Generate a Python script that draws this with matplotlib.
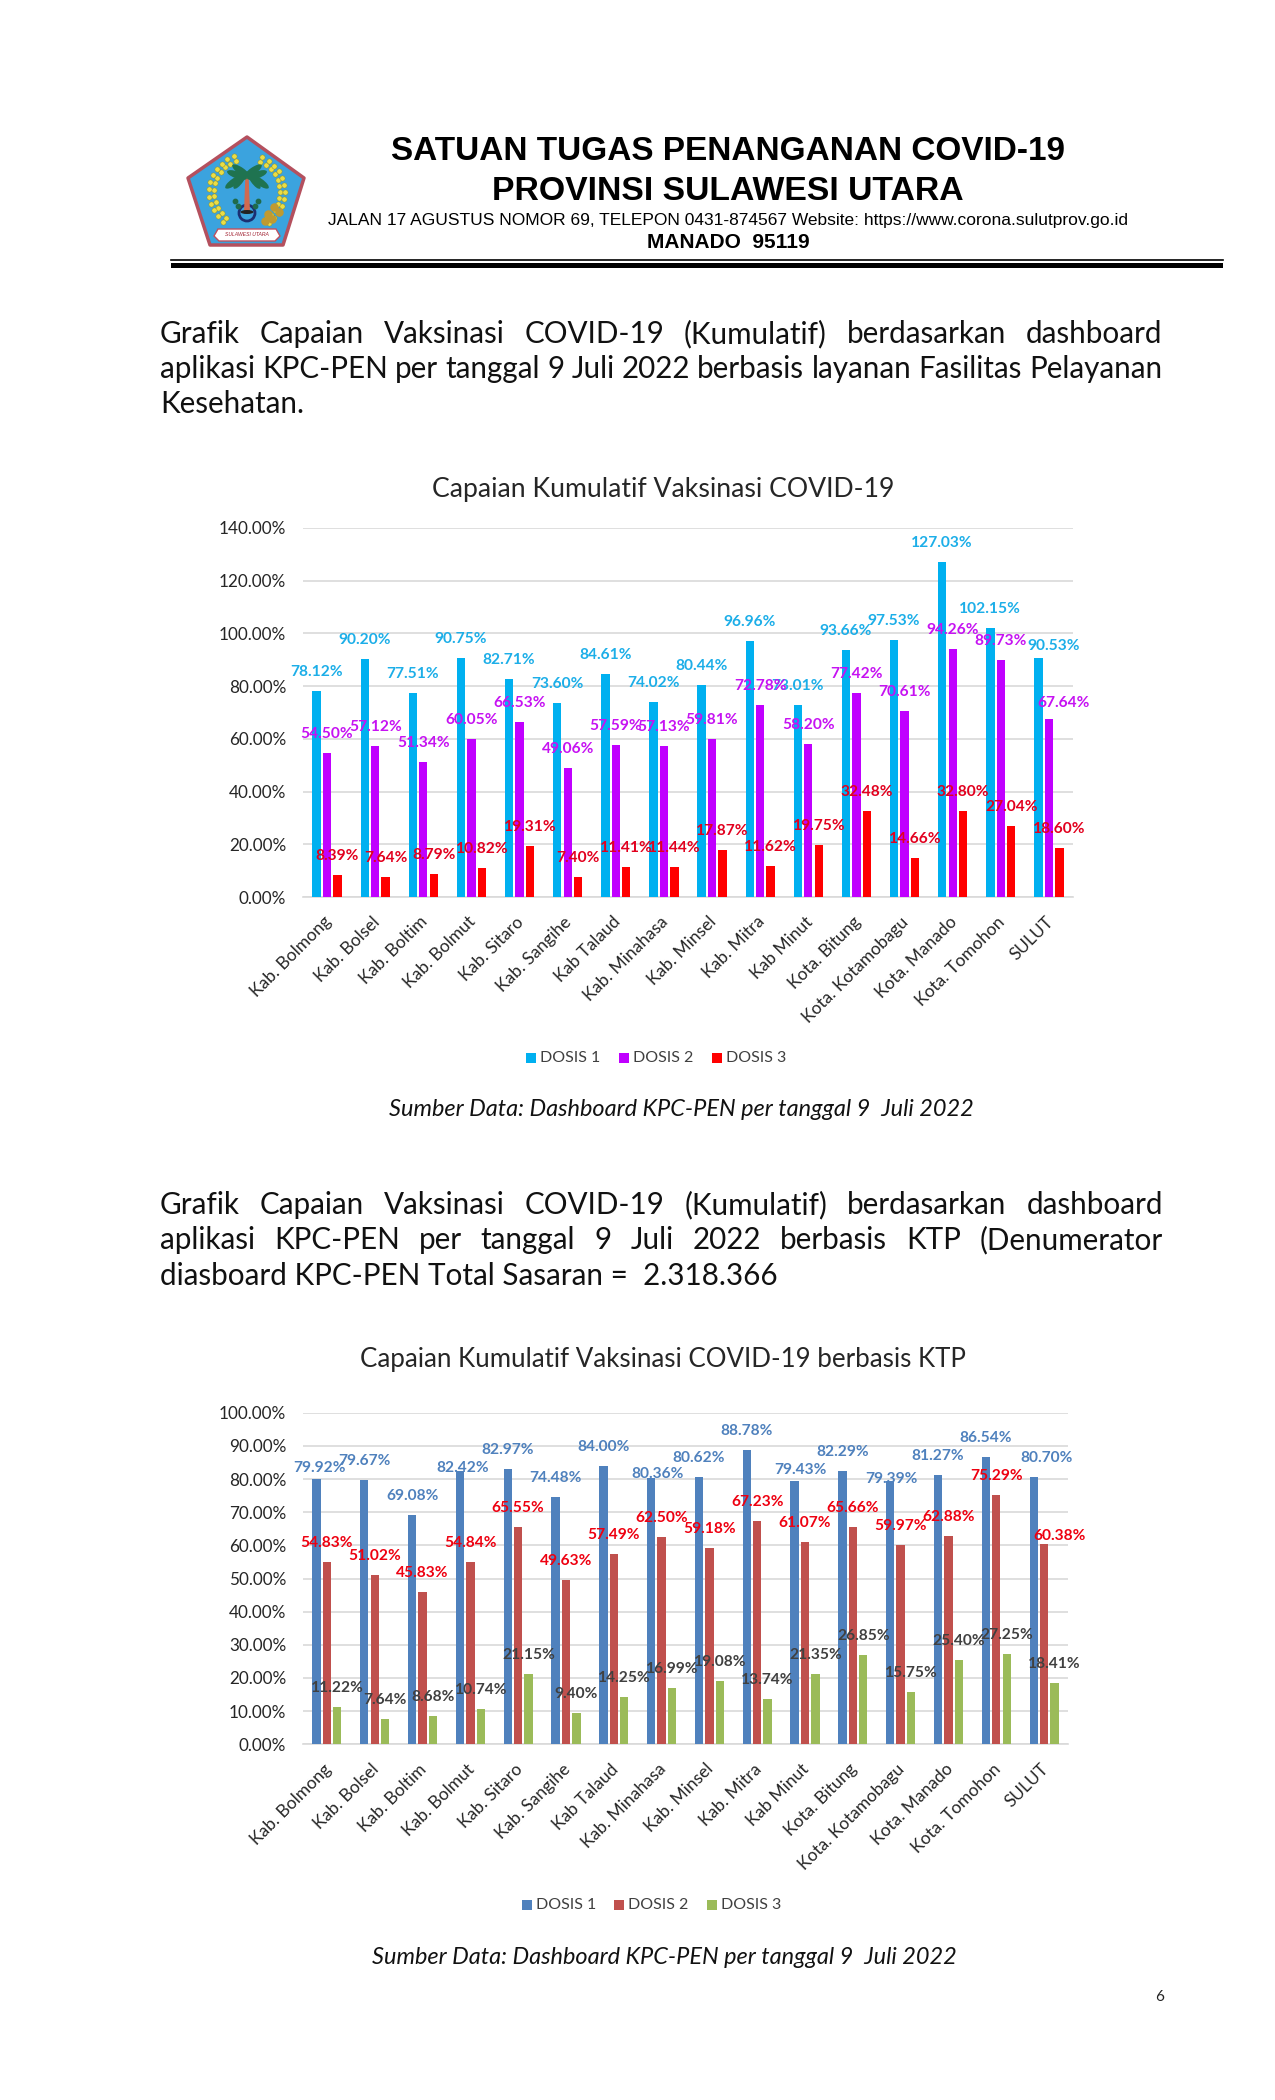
import numpy as np
import matplotlib
matplotlib.use("Agg")
import matplotlib.pyplot as plt
from matplotlib.patches import Polygon, Ellipse, Rectangle, Circle
from matplotlib.transforms import ScaledTranslation

W, H = 1275, 2100
BODY = "Lato"
HEAD = "Liberation Sans"

categories = ["Kab. Bolmong", "Kab. Bolsel", "Kab. Boltim", "Kab. Bolmut", "Kab. Sitaro",
              "Kab. Sangihe", "Kab Talaud", "Kab. Minahasa", "Kab. Minsel", "Kab. Mitra",
              "Kab Minut", "Kota. Bitung", "Kota. Kotamobagu", "Kota. Manado", "Kota. Tomohon",
              "SULUT"]

# chart 1 - layanan fasyankes
faskes_dosis1 = [78.12, 90.20, 77.51, 90.75, 82.71, 73.60, 84.61, 74.02,
                 80.44, 96.96, 73.01, 93.66, 97.53, 127.03, 102.15, 90.53]
faskes_dosis2 = [54.50, 57.12, 51.34, 60.05, 66.53, 49.06, 57.59, 57.13,
                 59.81, 72.78, 58.20, 77.42, 70.61, 94.26, 89.73, 67.64]
faskes_dosis3 = [8.39, 7.64, 8.79, 10.82, 19.31, 7.40, 11.41, 11.44,
                 17.87, 11.62, 19.75, 32.48, 14.66, 32.80, 27.04, 18.60]

# chart 2 - berbasis KTP
ktp_dosis1 = [79.92, 79.67, 69.08, 82.42, 82.97, 74.48, 84.00, 80.36,
              80.62, 88.78, 79.43, 82.29, 79.39, 81.27, 86.54, 80.70]
ktp_dosis2 = [54.83, 51.02, 45.83, 54.84, 65.55, 49.63, 57.49, 62.50,
              59.18, 67.23, 61.07, 65.66, 59.97, 62.88, 75.29, 60.38]
ktp_dosis3 = [11.22, 7.64, 8.68, 10.74, 21.15, 9.40, 14.25, 16.99,
              19.08, 13.74, 21.35, 26.85, 15.75, 25.40, 27.25, 18.41]

# hand moved labels: (series, index) -> (dx px, gap px)
faskes_label_moved = {(0, 15): (15.5, 12), (1, 15): (15, 16)}
ktp_label_moved = {(0, 0): (3, 11), (0, 3): (3, 3), (0, 7): (6, 4), (0, 10): (6, 11), (0, 12): (1, 2.5),
                   (0, 15): (13, 19), (1, 15): (15, 8)}

series_names = ["DOSIS 1", "DOSIS 2", "DOSIS 3"]
faskes_colors = ["#00B0F0", "#C000FF", "#FF0000"]
faskes_label_colors = ["#1CAEE8", "#C612F2", "#E2001E"]
ktp_colors = ["#4F81BD", "#C0504D", "#9BBB59"]
ktp_label_colors = ["#4F81BD", "#EE0010", "#404040"]

para1 = ["Grafik Capaian Vaksinasi COVID-19 (Kumulatif) berdasarkan dashboard",
         "aplikasi KPC-PEN per tanggal 9 Juli 2022 berbasis layanan Fasilitas Pelayanan",
         "Kesehatan."]
para2 = ["Grafik Capaian Vaksinasi COVID-19 (Kumulatif) berdasarkan dashboard",
         "aplikasi KPC-PEN per tanggal 9 Juli 2022 berbasis KTP (Denumerator",
         "diasboard KPC-PEN Total Sasaran =  2.318.366"]
source_text = "Sumber Data: Dashboard KPC-PEN per tanggal 9  Juli 2022"

LABEL_SIZE = 11.2

fig = plt.figure(figsize=(W / 100, H / 100), dpi=100, facecolor="white")
page = fig.add_axes([0, 0, 1, 1], zorder=0)
page.set_xlim(0, W)
page.set_ylim(H, 0)
page.axis("off")


def justify(lines, y_list, x0, x1, size):
    # word by word so the first lines fill the column, last line stays left
    rend = fig.canvas.get_renderer()
    for n, (line, y) in enumerate(zip(lines, y_list)):
        if n == len(lines) - 1:
            page.text(x0, y, line, fontsize=size, family=BODY, va="center", color="#111111")
            continue
        words = line.split()
        items = [page.text(0, y, w, fontsize=size, family=BODY, va="center", color="#111111") for w in words]
        widths = [t.get_window_extent(rend).width for t in items]
        gap = (x1 - x0 - sum(widths)) / (len(words) - 1)
        x = x0
        for t, w in zip(items, widths):
            t.set_x(x)
            x += w + gap


def draw_logo():
    page.add_patch(Polygon([(247, 137), (304, 178), (283, 245), (210, 245), (188, 178)],
                           fc="#3BA3DE", ec="#B4505E", lw=2.5, joinstyle="round"))
    # wreath, two rows of leaves with a gap at the top
    for r, step in [(33, 11), (38, 11)]:
        ang = np.radians(np.arange(-55, 70, step))
        page.scatter(247 + r * np.cos(ang), 192 - r * np.sin(ang), s=14, c="#EBDD45",
                     edgecolors="#8E8A20", linewidths=0.3, zorder=3)
        ang = np.radians(np.arange(110, 240, step))
        page.scatter(247 + r * np.cos(ang), 192 - r * np.sin(ang), s=14, c="#EBDD45",
                     edgecolors="#8E8A20", linewidths=0.3, zorder=3)
    page.scatter([268, 274, 279, 272, 265], [214, 207, 212, 219, 221], s=26, c="#C09A30", zorder=4)
    # palm
    page.add_patch(Circle((247, 213), 8, fc="#3BA3DE", ec="#1B2F72", lw=2, zorder=3))
    page.add_patch(Polygon([(245.5, 172), (248.5, 172), (250, 212), (244, 212)], fc="#D06A50", zorder=4))
    page.add_patch(Ellipse((247, 212), 13, 4, fc="#222222", zorder=4))
    for dx, dy, a in [(-10, -1, 20), (10, -1, -20), (-6, -5, 35), (6, -5, -35), (-13, 6, -35), (13, 6, 35),
                      (-7, 4, -55), (7, 4, 55)]:
        page.add_patch(Ellipse((247 + dx, 176 + dy), 21, 7, angle=a, fc="#1F7350", zorder=5))
    page.scatter([235, 238, 258, 255], [201, 206, 201, 206], s=10, c="#1F6B4A", zorder=4)
    # banner
    page.add_patch(Polygon([(218, 229), (276, 229), (280, 236), (275, 241), (219, 241), (214, 236)],
                           fc="white", ec="#C0505E", lw=1, zorder=6))
    page.text(247, 235, "SULAWESI UTARA", fontsize=3.6, family=HEAD, color="#A02030",
              style="italic", ha="center", va="center", zorder=7)


def draw_chart(rect, ymax, ystep, values, colors, label_colors, moved):
    left, top, right, bottom = rect
    ax = fig.add_axes([left / W, 1 - bottom / H, (right - left) / W, (bottom - top) / H], zorder=2)
    ax.patch.set_alpha(0)
    x = np.arange(len(categories))
    for i, (vals, col, lab_col) in enumerate(zip(values, colors, label_colors)):
        pos = x + (i - 1) * 0.218
        ax.bar(pos, vals, width=0.174, color=col, zorder=3)
        for j, v in enumerate(vals):
            dx, gap = moved.get((i, j), (0, 19))
            ax.annotate(f"{v:.2f}%", (pos[j], v), xytext=(dx * 0.72, gap * 0.72), textcoords="offset points",
                        ha="center", va="center", fontsize=LABEL_SIZE, fontweight="bold", family=BODY,
                        color=lab_col, zorder=5, annotation_clip=False)
    ax.set_xlim(-0.5, len(categories) - 0.5)
    ax.set_ylim(0, ymax)
    yt = np.arange(0, ymax + 0.1, ystep)
    ax.set_yticks(yt)
    ax.set_yticklabels([f"{t:.2f}%" for t in yt], fontsize=12.3, family=BODY, color="#262626")
    ax.set_xticks(x)
    ax.set_xticklabels(categories, rotation=45, ha="right", rotation_mode="anchor",
                       fontsize=12.5, family=BODY, color="#262626")
    ax.tick_params(axis="y", length=0, pad=12)
    ax.tick_params(axis="x", length=0, pad=12)
    # labels sit a little left of the tick
    shift = ScaledTranslation(-4 / 100, 0, fig.dpi_scale_trans)
    for lab in ax.get_xticklabels():
        lab.set_transform(lab.get_transform() + shift)
    ax.grid(axis="y", color="#D9D9D9", lw=1.2, zorder=0)
    ax.set_axisbelow(True)
    for s in ["top", "right", "left"]:
        ax.spines[s].set_visible(False)
    ax.spines["bottom"].set_color("#D9D9D9")
    ax.spines["bottom"].set_linewidth(1.2)
    return ax


def draw_legend(xs, y, colors):
    for name, col, xp in zip(series_names, colors, xs):
        page.add_patch(Rectangle((xp - 5, y - 5), 10, 10, fc=col))
        page.text(xp + 9, y, name, fontsize=11.5, family=BODY, va="center", color="#404040")


# letterhead
draw_logo()
page.text(728, 151.5, "SATUAN TUGAS PENANGANAN COVID-19", fontsize=24, fontweight="bold", family=HEAD,
          ha="center", va="center", color="black")
page.text(728, 191, "PROVINSI SULAWESI UTARA", fontsize=24.3, fontweight="bold", family=HEAD,
          ha="center", va="center", color="black")
page.text(728, 220, "JALAN 17 AGUSTUS NOMOR 69, TELEPON 0431-874567 Website: https://www.corona.sulutprov.go.id",
          fontsize=12.5, family=HEAD, ha="center", va="center", color="black")
page.text(728, 243, "MANADO  95119", fontsize=15, fontweight="bold", family=HEAD, ha="center", va="center",
          color="black")
page.plot([171, 1223], [260, 260], color="black", lw=1.2)
page.add_patch(Rectangle((171, 263), 1052, 5, fc="black"))

justify(para1, [334, 369, 404], 160, 1162, 21.3)
justify(para2, [1205, 1240, 1276], 160, 1163, 21.3)

page.text(663, 489, "Capaian Kumulatif Vaksinasi COVID-19", fontsize=19.2, family=BODY, ha="center", va="center",
          color="#262626")
page.text(663, 1359, "Capaian Kumulatif Vaksinasi COVID-19 berbasis KTP", fontsize=18.6, family=BODY, ha="center",
          va="center", color="#262626")

draw_chart((303, 528, 1073, 897), 140, 20, [faskes_dosis1, faskes_dosis2, faskes_dosis3],
           faskes_colors, faskes_label_colors, faskes_label_moved)
draw_chart((303, 1412.7, 1068, 1744.3), 100, 10, [ktp_dosis1, ktp_dosis2, ktp_dosis3],
           ktp_colors, ktp_label_colors, ktp_label_moved)

draw_legend([531, 624, 717], 1058, faskes_colors)
draw_legend([527, 619, 712], 1905, ktp_colors)

page.text(681, 1109, source_text, fontsize=16.9, family=BODY, style="italic", ha="center", va="center", color="#111111")
page.text(664, 1958, source_text, fontsize=16.9, family=BODY, style="italic", ha="center", va="center", color="#111111")
page.text(1160, 1997, "6", fontsize=11, family=BODY, ha="center", va="center", color="#222222")

fig.savefig("out.png", dpi=100)
